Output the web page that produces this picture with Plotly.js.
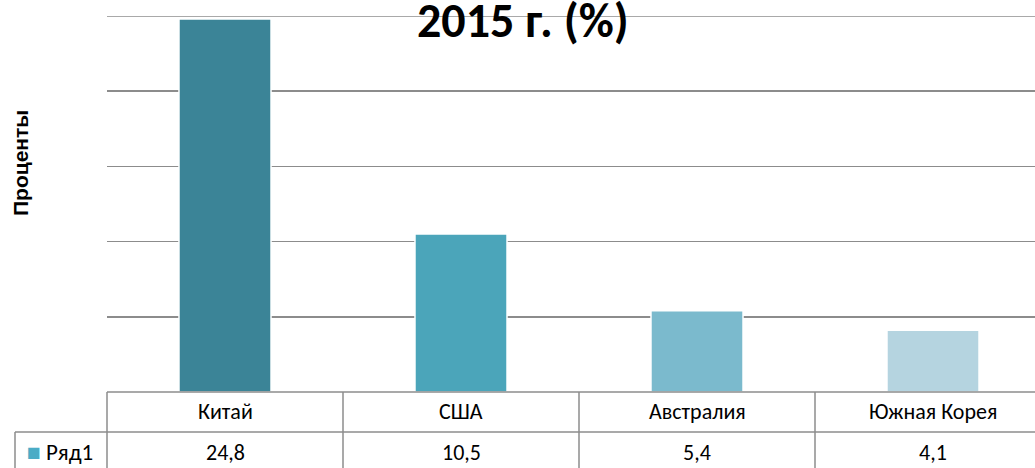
<!DOCTYPE html>
<html>
<head>
<meta charset="utf-8">
<script src="https://cdn.plot.ly/plotly-3.0.1.min.js"></script>
<style>
html,body{margin:0;padding:0;overflow:hidden;background:#fff;width:1035px;height:468px;}
#chart{width:1052px;height:468px;}
</style>
</head>
<body>
<div id="chart"></div>
<script>
const categories = ["Китай", "США", "Австралия", "Южная Корея"];
const values = [24.8, 10.5, 5.4, 4.1];
const valueLabels = ["24,8", "10,5", "5,4", "4,1"];
const barColors = ["#3b8497", "#4ba5ba", "#7bbacd", "#b5d4e0"];
const seriesName = "Ряд1";
const titleText = "2015 г. (%)";
const yTitle = "Проценты";

const FONT = "Carlito, Calibri, 'Open Sans', sans-serif";
const GRID = "#8c8c8c";

const trace = {
  type: "bar",
  x: categories,
  y: values,
  name: seriesName,
  width: 0.39,
  marker: { color: barColors, line: { color: "#ffffff", width: 1.5 } },
  hoverinfo: "none"
};

const annotations = [];
categories.forEach((c, i) => {
  annotations.push({ x: c, y: -20 / 376, xref: "x", yref: "paper", text: c, showarrow: false,
    font: { family: FONT, size: 22, color: "#000" }, xanchor: "center", yanchor: "middle" });
  annotations.push({ x: c, y: -60 / 376, xref: "x", yref: "paper", text: valueLabels[i], showarrow: false,
    font: { family: FONT, size: 22, color: "#000" }, xanchor: "center", yanchor: "middle" });
});
annotations.push({ x: -82 / 944, y: -60 / 376, xref: "paper", yref: "paper", xanchor: "left", yanchor: "middle",
  text: '<span style="color:#4bacc6">■</span> ' + seriesName, showarrow: false,
  font: { family: FONT, size: 23, color: "#000" } });
annotations.push({ x: -87 / 944, y: (392 - 163) / 376, xref: "paper", yref: "paper", xanchor: "center", yanchor: "middle",
  text: "<b>" + yTitle + "</b>", textangle: -90, showarrow: false,
  font: { family: "Liberation Sans, Arial, sans-serif", size: 21, color: "#000" } });

const shapes = [];
const ln = { color: GRID, width: 1.5 };
// top gridline (value 25)
shapes.push({ type: "line", xref: "paper", yref: "y", x0: 0, x1: 1, y0: 25, y1: 25, line: ln, layer: "below" });
// table horizontal lines
shapes.push({ type: "line", xref: "paper", yref: "paper", x0: 0, x1: 1, y0: 0, y1: 0, line: ln });
shapes.push({ type: "line", xref: "paper", yref: "paper", x0: -92 / 944, x1: 1, y0: -40 / 376, y1: -40 / 376, line: ln });
// table vertical lines
shapes.push({ type: "line", xref: "paper", yref: "paper", x0: 0, x1: 0, y0: 0, y1: -80 / 376, line: ln });
shapes.push({ type: "line", xref: "paper", yref: "paper", x0: -92 / 944, x1: -92 / 944, y0: -40 / 376, y1: -80 / 376, line: ln });
for (let i = 0; i < categories.length - 1; i++) {
  shapes.push({ type: "line", xref: "x", yref: "paper", x0: i + 0.5, x1: i + 0.5, y0: 0, y1: -80 / 376, line: ln });
}

const layout = {
  width: 1052, height: 468,
  margin: { l: 107, r: 1, t: 16, b: 76 },
  paper_bgcolor: "#fff", plot_bgcolor: "#fff",
  showlegend: false,
  title: { text: "<b>" + titleText + "</b>", font: { family: FONT, size: 48, color: "#000" },
    x: 0.497, xref: "container", y: 1 - 20 / 468, yref: "container", yanchor: "middle", xanchor: "center" },
  xaxis: { range: [-0.5, 3.5], showticklabels: false, ticks: "", showgrid: false, zeroline: false, showline: false, fixedrange: true },
  yaxis: { range: [0, 25], dtick: 5, showticklabels: false, ticks: "", showgrid: true, gridcolor: GRID, gridwidth: 1.5,
    zeroline: false, showline: false, fixedrange: true },
  annotations: annotations,
  shapes: shapes
};

Plotly.newPlot("chart", [trace], layout, { staticPlot: true, displayModeBar: false });
</script>
</body>
</html>
